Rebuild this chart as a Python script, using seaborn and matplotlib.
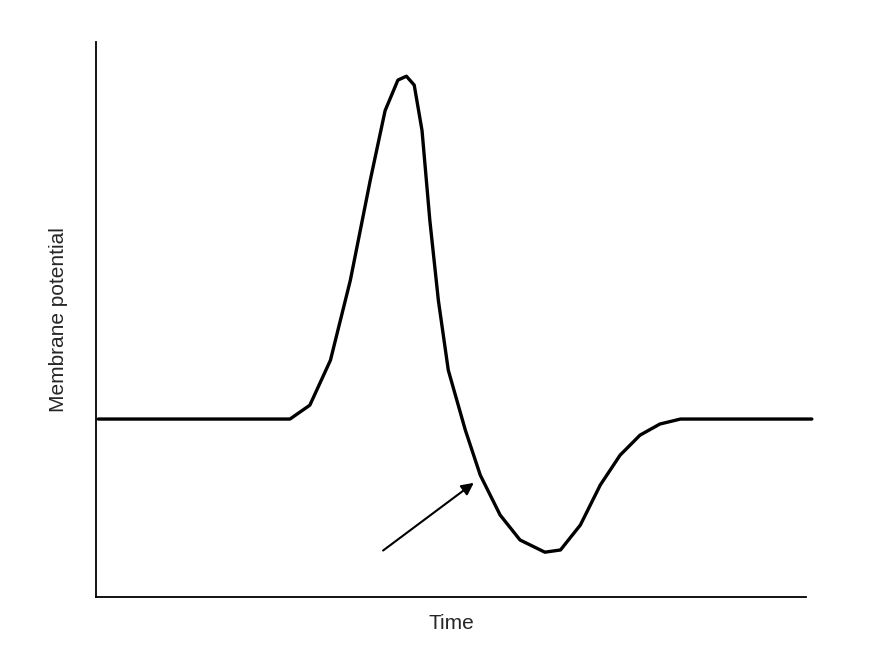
import matplotlib
matplotlib.use("Agg")
import matplotlib.pyplot as plt
import seaborn as sns
import pandas as pd

sns.set_style("white")
plt.rcParams['font.family'] = ['Liberation Sans', 'DejaVu Sans']

time = [0.3, 27.3, 30.1, 33.0, 35.8, 38.6, 40.7, 42.5, 43.7, 44.8, 45.9, 47.0, 48.2, 49.6,
        52.0, 54.1, 56.9, 59.7, 63.2, 65.4, 68.2, 71.0, 73.8, 76.6, 79.4, 82.3, 100.8]
potential = [32.1, 32.1, 34.6, 42.7, 57.1, 75.1, 87.7, 93.2, 93.9, 92.3, 84.1, 67.9, 53.5, 40.9,
             30.1, 22.0, 14.8, 10.3, 8.1, 8.5, 13.0, 20.2, 25.6, 29.2, 31.2, 32.1, 32.1]
arrow_start = (40.1, 8.1)
arrow_end = (53.5, 20.9)

df = pd.DataFrame({"Time": time, "Membrane potential": potential})

fig = plt.figure(figsize=(8.82, 6.62), dpi=100)
ax = fig.add_axes([0.109, 0.098, 0.805, 0.838])
sns.lineplot(data=df, x="Time", y="Membrane potential", ax=ax, color="black",
             linewidth=2.4, clip_on=False)
ax.annotate("", xy=arrow_end, xytext=arrow_start,
            arrowprops=dict(arrowstyle="-|>", color="black", lw=1.5, mutation_scale=18))
ax.set_xlim(0, 100)
ax.set_ylim(0, 100)
ax.set_xticks([]); ax.set_yticks([])
for s in ["top", "right"]:
    ax.spines[s].set_visible(False)
for s in ["left", "bottom"]:
    ax.spines[s].set_color("black")
    ax.spines[s].set_linewidth(1.3)
ax.set_xlabel("Time", fontsize=15, labelpad=12)
ax.set_ylabel("Membrane potential", fontsize=15, labelpad=20)
fig.savefig("out.png", dpi=100)
